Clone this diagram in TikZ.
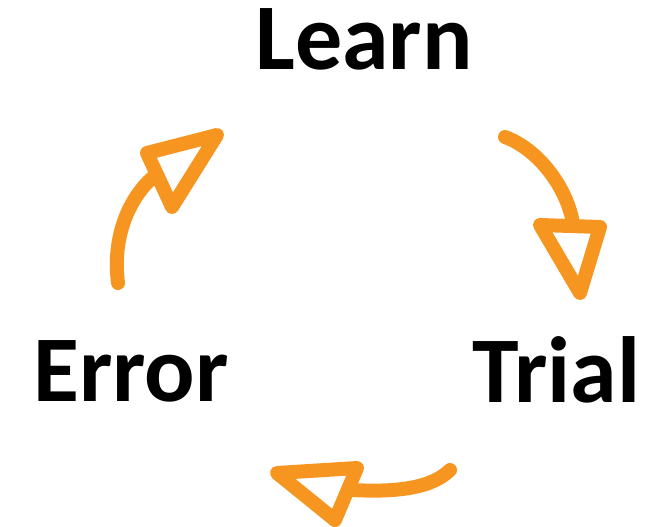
\documentclass[tikz,border=0pt]{standalone}
\usepackage{fontspec}
\setmainfont{Carlito}
\definecolor{arroworange}{RGB}{246,150,33}
\begin{document}
\begin{tikzpicture}[x=1pt,y=-1pt,
  word/.style={font=\bfseries\fontsize{94}{94}\selectfont, inner sep=0pt, anchor=base},
  stroke/.style={draw=arroworange, line width=14pt, line cap=round, line join=round}]
\useasboundingbox (0,0) rectangle (651,527);
\node[word] (learn) at (364,70) {Learn};
\node[word] (error) at (131,401) {Error};
\node[word] (trial) at (556.5,402) {Trial};
% arrow error -> learn
\coordinate (a1s) at (118,283);
\coordinate (a1e) at (152,178);
\draw[stroke] (a1s) .. controls (112,235) and (130,198) .. (a1e);
\draw[stroke] (147,153) -- (217,135) -- (172,207) -- cycle;
% arrow learn -> trial
\coordinate (a2s) at (505,137);
\coordinate (a2e) at (573,224);
\draw[stroke] (a2s) .. controls (540,150) and (568,190) .. (a2e);
\draw[stroke] (540,225) -- (600,227) -- (580,293) -- cycle;
% arrow trial -> error
\coordinate (a3s) at (450,470);
\coordinate (a3e) at (352,490);
\draw[stroke] (a3s) .. controls (430,490) and (390,492) .. (a3e);
\draw[stroke] (277,473) -- (357,468) -- (335,520) -- cycle;
\end{tikzpicture}
\end{document}
